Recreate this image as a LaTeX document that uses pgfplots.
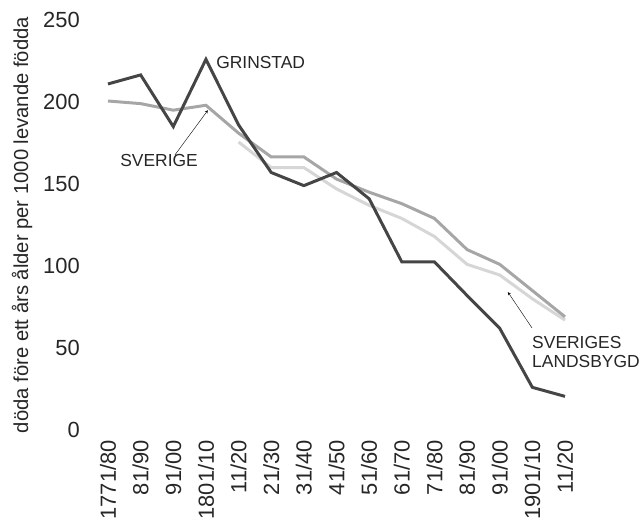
\documentclass[border=0pt]{standalone}
\usepackage{pgfplots}
\pgfplotsset{compat=1.18}
\usepackage{fontspec}
\setmainfont{Liberation Sans}
\definecolor{cdark}{HTML}{454545}
\definecolor{cmed}{HTML}{A6A6A6}
\definecolor{clight}{HTML}{D6D6D6}
\begin{document}
\begin{tikzpicture}[x=1bp,y=1bp]
\begin{axis}[
  at={(108bp,91bp)}, anchor=south west,
  scale only axis, width=457bp, height=410bp,
  xmin=0, xmax=14, ymin=0, ymax=250,
  axis line style={draw=none},
  tick style={draw=none},
  ytick={0,50,100,150,200,250},
  xtick={0,...,14},
  xticklabels={1771/80,81/90,91/00,1801/10,11/20,21/30,31/40,41/50,51/60,61/70,71/80,81/90,91/00,1901/10,11/20},
  xticklabel style={rotate=90, anchor=east, font=\fontsize{22}{24}\selectfont, text=black!85, inner sep=0pt, xshift=-10bp},
  yticklabel style={font=\fontsize{22}{24}\selectfont, text=black!85, anchor=east, inner sep=0pt, xshift=-28bp},
  /pgf/number format/assume math mode=true,
  ylabel={döda före ett års ålder per 1000 levande födda},
  ylabel style={font=\fontsize{20.3}{22}\selectfont, text=black!85, at={(axis description cs:0,0.5)}, anchor=center, rotate=0, yshift=86bp},
  clip=false,
]
\addplot[clight, line width=3pt] coordinates {
(4,175.6) (5,160) (6,160) (7,147) (8,137) (9,129) (10,118) (11,101) (12,94.5) (13,80) (14,67)};
\addplot[cmed, line width=3pt] coordinates {
(0,200.6) (1,199) (2,195) (3,198) (4,181) (5,166.5) (6,166.5) (7,153) (8,145) (9,138) (10,129) (11,110) (12,101) (13,85) (14,69)};
\addplot[cdark, line width=3pt] coordinates {
(0,211) (1,216.5) (2,185) (3,226) (4,186) (5,157) (6,149) (7,157) (8,141) (9,102.5) (10,102.5) (11,82) (12,62) (13,26) (14,20.5)};
\node[anchor=west, font=\fontsize{17.5}{19}\selectfont, text=black!85, inner sep=0pt] at (axis cs:3.31,224) {GRINSTAD};
\node[anchor=west, font=\fontsize{17.5}{19}\selectfont, text=black!85, inner sep=0pt] at (axis cs:0.37,164.6) {SVERIGE};
\draw[-stealth, thin] (axis cs:2.05,167.7) -- (axis cs:3.06,195);
\node[anchor=west, align=left, font=\fontsize{17.5}{19}\selectfont, text=black!85, inner sep=0pt] at (axis cs:12.99,47.3) {SVERIGES\\LANDSBYGD};
\draw[-stealth, thin] (axis cs:12.99,62.2) -- (axis cs:12.25,84.1);
\end{axis}
\pgfresetboundingbox
\useasboundingbox (0,0) rectangle (639,521);
\end{tikzpicture}
\end{document}
